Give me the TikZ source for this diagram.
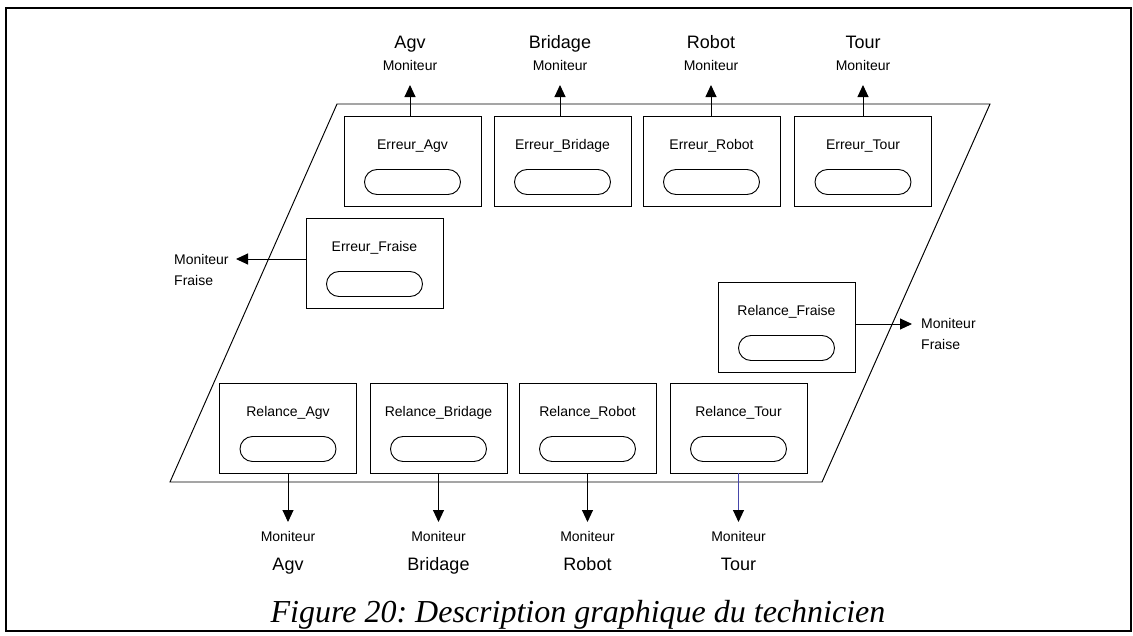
\documentclass[tikz,border=0pt]{standalone}
\usepackage{fontspec}
\newfontfamily\diagfont{Liberation Sans}
\newfontfamily\capfont{Liberation Serif}
\usetikzlibrary{arrows.meta}

\tikzset{
  pbox/.style={draw, line width=0.95pt, minimum width=137pt, minimum height=90pt, inner sep=0pt},
  ptitle/.style={font=\diagfont\fontsize{14}{16}\selectfont, inner sep=0pt, anchor=base},
  pslot/.style={draw, line width=0.95pt, rounded corners=12.5pt, minimum width=96pt, minimum height=25pt, inner sep=0pt},
  small/.style={font=\diagfont\fontsize{14}{16}\selectfont, inner sep=0pt, anchor=base},
  big/.style={font=\diagfont\fontsize{18}{20}\selectfont, inner sep=0pt, anchor=base},
  arr/.style={line width=0.95pt, -{Triangle[length=12pt,width=11pt]}},
  zone/.style={line width=0.95pt, line join=miter},
}

% one process box: name, centre x, top y, title
\newcommand{\procbox}[4]{%
  \node[pbox] (#1) at (#2,#3+45) {};
  \node[ptitle] (#1-t) at (#2,#3+33) {#4};
  \node[pslot] (#1-o) at (#2,#3+66) {};
}

\begin{document}
\frenchspacing
\begin{tikzpicture}[x=1pt,y=-1pt]
  \useasboundingbox (0,0) rectangle (1133,635);
  \fill[white] (0,0) rectangle (1133,635);
  % outer frame
  \draw[line width=1.5pt] (6,8) rectangle (1131,631);

  % the technician's zone
  \draw[zone] (170,482) -- (822,482) -- (990,104) -- (337,104) -- cycle;

  % error processes
  \procbox{ea}{412.5}{116}{Erreur\_Agv}
  \procbox{eb}{562.5}{116}{Erreur\_Bridage}
  \procbox{er}{711.5}{116}{Erreur\_Robot}
  \procbox{et}{863}{116}{Erreur\_Tour}
  \procbox{ef}{374.5}{218}{Erreur\_Fraise}

  % restart processes
  \procbox{rf}{786.5}{282}{Relance\_Fraise}
  \procbox{ra}{288}{383}{Relance\_Agv}
  \procbox{rb}{438.5}{383}{Relance\_Bridage}
  \procbox{rr}{587.5}{383}{Relance\_Robot}
  \procbox{rt}{738.5}{383}{Relance\_Tour}

  % monitors above
  \foreach \id/\x/\nm in {ea/410/Agv, eb/560/Bridage, er/711/Robot, et/863/Tour}{
    \coordinate (\id-tip) at (\x,85);
    \node[small] (\id-m) at (\x,70) {Moniteur};
    \node[big] (\id-n) at (\x,48.5) {\nm};
    \draw[arr] (\id.north -| \id-tip) -- (\id-tip);
  }

  % monitors below
  \foreach \id/\nm in {ra/Agv, rb/Bridage, rr/Robot}{
    \coordinate (\id-tip) at (\id.south |- 0,522);
    \node[small] (\id-m) at (\id.south |- 0,541) {Moniteur};
    \node[big] (\id-n) at (\id.south |- 0,570.5) {\nm};
    \draw[arr] (\id.south) -- (\id-tip);
  }
  \coordinate (rt-tip) at (rt.south |- 0,522);
  \node[small] (rt-m) at (rt.south |- 0,541) {Moniteur};
  \node[big] (rt-n) at (rt.south |- 0,570.5) {Tour};
  \draw[line width=0.95pt, draw={rgb,255:red,70;green,70;blue,170},
        -{Triangle[length=12pt,width=11pt,color=black]}] (rt.south) -- (rt-tip);

  % milling-machine monitor, left
  \coordinate (ef-tip) at (236,259);
  \node[small, anchor=base west] (ef-m) at (174,264) {Moniteur};
  \node[small, anchor=base west] (ef-n) at (174,285) {Fraise};
  \draw[arr] ([yshift=4pt]ef.west) -- (ef-tip);

  % milling-machine monitor, right
  \coordinate (rf-tip) at (912,324);
  \node[small, anchor=base west] (rf-m) at (921,328) {Moniteur};
  \node[small, anchor=base west] (rf-n) at (921,349) {Fraise};
  \draw[arr] ([yshift=3pt]rf.east) -- (rf-tip);

  % caption
  \node[anchor=base, inner sep=0pt, font=\capfont\itshape\fontsize{32}{34}\selectfont]
    (cap) at (578,622) {Figure 20: Description graphique du technicien};
\end{tikzpicture}
\end{document}
